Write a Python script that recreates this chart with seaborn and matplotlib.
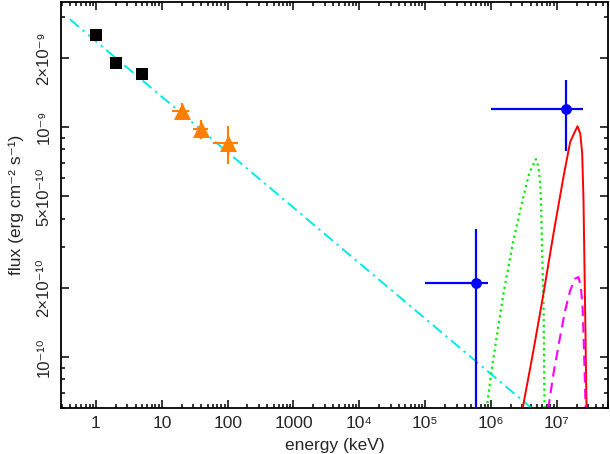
import numpy as np
import pandas as pd
import matplotlib
matplotlib.use("Agg")
import matplotlib.pyplot as plt
import matplotlib.ticker as mticker
import seaborn as sns

# ---------------- data ----------------
sq_E = [1, 2, 5]
sq_F = [2.52e-9, 1.90e-9, 1.70e-9]

tri_E = [20, 40, 100]
tri_F = [1.18e-9, 0.98e-9, 8.5e-10]
tri_Elo = [14.5, 30, 59]
tri_Ehi = [26, 51, 142]
tri_Flo = [1.09e-9, 0.89e-9, 6.9e-10]
tri_Fhi = [1.27e-9, 1.07e-9, 1.01e-9]

bl_E = [6.0e5, 1.39e7]
bl_F = [2.1e-10, 1.2e-9]
bl_Elo = [1.0e5, 1.0e6]
bl_Ehi = [9.0e5, 2.5e7]
bl_Flo = [1.0e-12, 7.9e-10]
bl_Fhi = [3.6e-10, 1.61e-9]

pl_E = [0.403, 4.5e6]
pl_F = [2.94e-9, 5.87e-11]

green_E = [8.3e5, 8.65e5, 1.007e6, 1.159e6, 1.549e6, 2.198e6, 2.944e6, 3.802e6,
           4.81e6, 5.27e6, 5.60e6, 5.80e6, 5.93e6, 6.30e6, 6.52e6, 6.58e6]
green_F = [5.0e-11, 6.05e-11, 8.47e-11, 1.107e-10, 1.888e-10, 3.22e-10, 4.66e-10, 6.28e-10,
           7.26e-10, 6.71e-10, 5.69e-10, 4.50e-10, 3.22e-10, 1.652e-10, 6.05e-11, 5.0e-11]

red_E = [2.70e6, 3.055e6, 4.426e6, 6.281e6, 8.91e6, 1.265e7, 1.600e7, 1.837e7, 2.065e7,
         2.270e7, 2.432e7, 2.547e7, 2.636e7, 2.729e7, 2.825e7, 2.84e7]
red_F = [5.0e-11, 6.05e-11, 1.069e-10, 1.888e-10, 3.44e-10, 6.08e-10, 8.63e-10, 9.40e-10, 1.009e-9,
         9.40e-10, 7.69e-10, 4.81e-10, 2.466e-10, 1.265e-10, 6.27e-11, 5.0e-11]

mag_E = [7.2e6, 7.48e6, 8.91e6, 1.099e7, 1.343e7, 1.600e7, 1.905e7, 2.138e7, 2.323e7,
         2.460e7, 2.547e7, 2.636e7, 2.729e7, 2.75e7]
mag_F = [5.0e-11, 6.05e-11, 8.47e-11, 1.183e-10, 1.596e-10, 1.950e-10, 2.193e-10, 2.228e-10, 2.018e-10,
         1.652e-10, 1.265e-10, 9.04e-11, 6.27e-11, 5.0e-11]

x_ticks = [1, 10, 100, 1000, 1e4, 1e5, 1e6, 1e7]
x_ticklabels = ["1", "10", "100", "1000", "10\u2074", "10\u2075", "10\u2076", "10\u2077"]
y_ticks = [1e-10, 2e-10, 5e-10, 1e-9, 2e-9]
y_ticklabels = ["10\u207b\u00b9\u2070", "2\u00d710\u207b\u00b9\u2070", "5\u00d710\u207b\u00b9\u2070",
                "10\u207b\u2079", "2\u00d710\u207b\u2079"]

# ---------------- style ----------------
sns.set_theme(style="ticks")
plt.rcParams["font.family"] = ["Liberation Sans", "DejaVu Sans"]
plt.rcParams["mathtext.fontset"] = "custom"
plt.rcParams["mathtext.rm"] = "Liberation Sans"

fig = plt.figure(figsize=(6.10, 4.54), dpi=100)
ax = fig.add_axes([61 / 610, 1 - 408 / 454, 547 / 610, 406 / 454])
ax.set_xscale("log")
ax.set_yscale("log")

# power law (cyan dash-dot)
sns.lineplot(x=pl_E, y=pl_F, ax=ax, color="#00E8E8", lw=1.4, sort=False, estimator=None,
             linestyle=(0, (6, 2.5, 1.2, 2.5)), zorder=2)
# model curves
sns.lineplot(x=green_E, y=green_F, ax=ax, color="#00EE00", lw=1.6, sort=False, estimator=None,
             linestyle=(0, (1, 1.6)), zorder=2)
sns.lineplot(x=red_E, y=red_F, ax=ax, color="#FF0000", lw=1.4, sort=False, estimator=None, zorder=2)
sns.lineplot(x=mag_E, y=mag_F, ax=ax, color="#FF00FF", lw=1.5, sort=False, estimator=None,
             linestyle=(0, (5, 3)), zorder=2)

# orange triangles with error bars
tri_xerr = np.array([np.subtract(tri_E, tri_Elo), np.subtract(tri_Ehi, tri_E)])
tri_yerr = np.array([np.subtract(tri_F, tri_Flo), np.subtract(tri_Fhi, tri_F)])
ax.errorbar(tri_E, tri_F, xerr=tri_xerr, yerr=tri_yerr, fmt="none", ecolor="#FF8000",
            elinewidth=1.5, capsize=0, zorder=3)
sns.scatterplot(x=tri_E, y=tri_F, ax=ax, marker="^", s=150, color="#FF8000",
                edgecolor="#FF8000", linewidth=0, zorder=4)

# black squares
sns.scatterplot(x=sq_E, y=sq_F, ax=ax, marker="s", s=65, color="black",
                edgecolor="black", linewidth=0, zorder=4)

# blue points with error bars
bl_xerr = np.array([np.subtract(bl_E, bl_Elo), np.subtract(bl_Ehi, bl_E)])
bl_yerr = np.array([np.subtract(bl_F, bl_Flo), np.subtract(bl_Fhi, bl_F)])
ax.errorbar(bl_E, bl_F, xerr=bl_xerr, yerr=bl_yerr, fmt="none", ecolor="#0000FF",
            elinewidth=1.6, capsize=0, zorder=3)
sns.scatterplot(x=bl_E, y=bl_F, ax=ax, marker="o", s=60, color="#0000FF",
                edgecolor="#0000FF", linewidth=0, zorder=4)

ax.set_xlim(0.294, 6.0e7)
ax.set_ylim(6.0e-11, 3.5e-9)

# ticks
ax.xaxis.set_major_locator(mticker.FixedLocator(x_ticks))
ax.xaxis.set_major_formatter(mticker.FixedFormatter(x_ticklabels))
ax.xaxis.set_minor_locator(mticker.LogLocator(base=10, subs=np.arange(2, 10), numticks=100))
ax.xaxis.set_minor_formatter(mticker.NullFormatter())

ax.yaxis.set_major_locator(mticker.FixedLocator(y_ticks))
ax.yaxis.set_major_formatter(mticker.FixedFormatter(y_ticklabels))
ax.yaxis.set_minor_locator(mticker.LogLocator(base=10, subs=np.arange(2, 10), numticks=100))
ax.yaxis.set_minor_formatter(mticker.NullFormatter())

ax.tick_params(which="both", direction="in", top=True, right=True, width=1.1, color="black")
ax.tick_params(which="major", length=6)
ax.tick_params(which="minor", length=3.2)
ax.tick_params(axis="x", which="major", labelsize=12.5, pad=6)
ax.tick_params(axis="y", which="major", labelsize=12, pad=7)
for lab in ax.get_yticklabels():
    lab.set_rotation(90)
    lab.set_va("center")

for sp in ax.spines.values():
    sp.set_linewidth(1.3)
    sp.set_color("black")

ax.set_xlabel("energy (keV)", fontsize=12.5)
ax.set_ylabel("flux (erg cm\u207b\u00b2 s\u207b\u00b9)", fontsize=12.5)
ax.yaxis.set_label_coords(-0.068, 0.5)
ax.xaxis.set_label_coords(0.5, -0.074)
ax.grid(False)

fig.savefig("out.png", dpi=100)
